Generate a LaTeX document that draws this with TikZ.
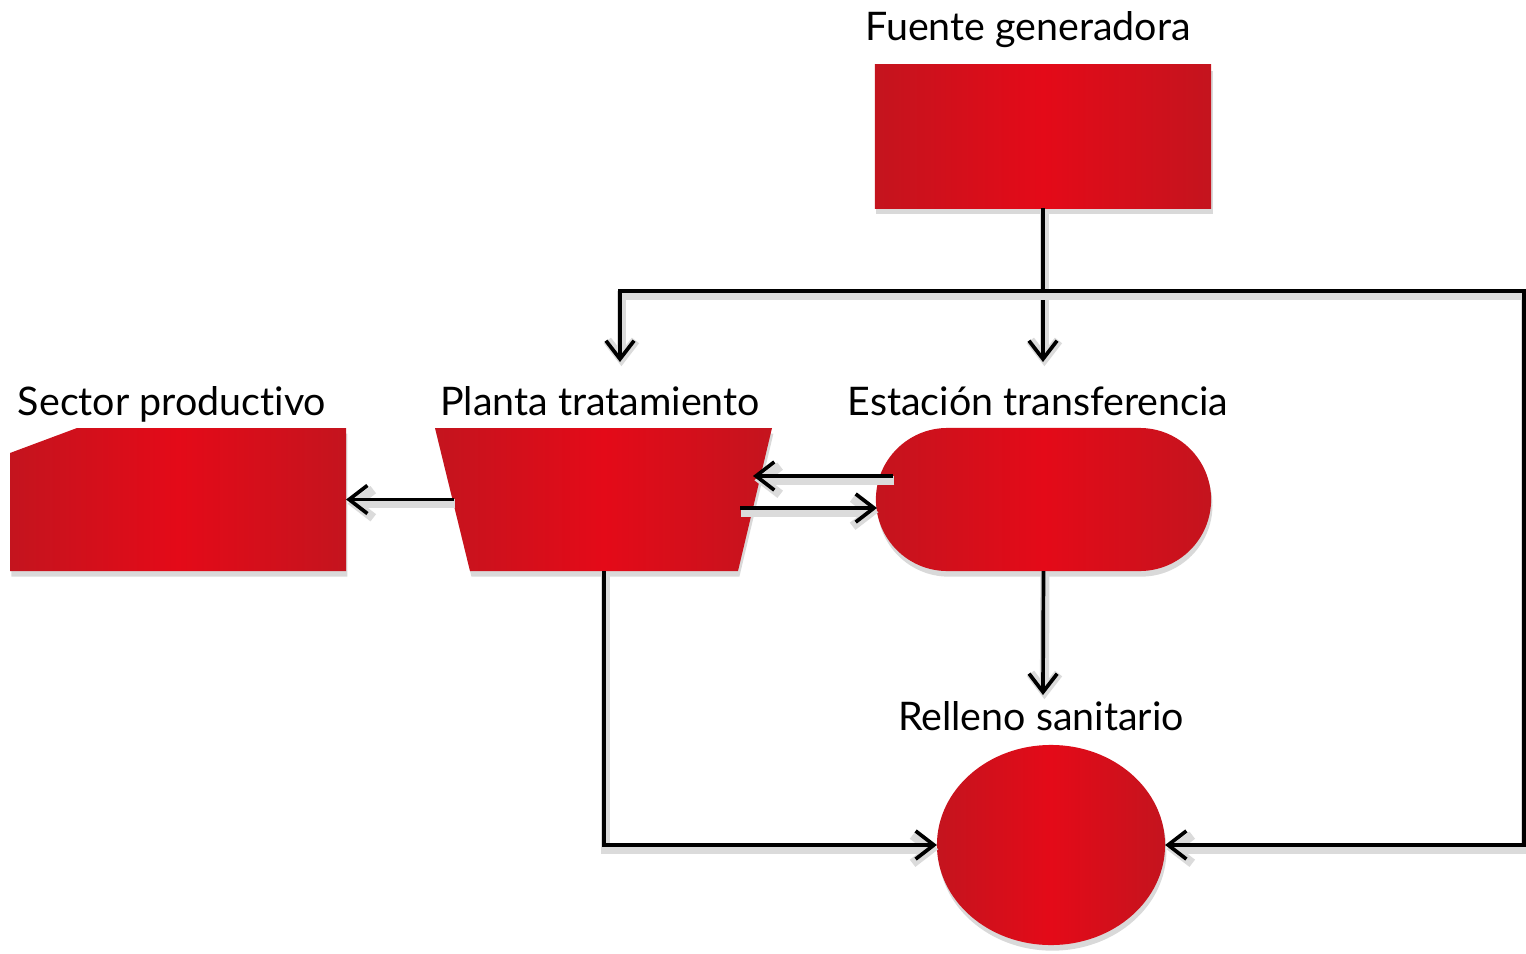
\documentclass[tikz,border=0pt]{standalone}
\usepackage{fontspec}
\setmainfont{Lato}[Ligatures=NoCommon]
\usetikzlibrary{shapes.geometric,shapes.misc,shadows,arrows.meta,calc}
\definecolor{redc}{RGB}{228,10,24}
\definecolor{redd}{RGB}{196,20,30}
\tikzset{
  redshape/.style={draw=none, inner sep=0pt, outer sep=0pt,
    left color=redd, right color=redd, middle color=redc,
    drop shadow={shadow xshift=0.4pt, shadow yshift=-1.6pt, opacity=0.3, fill=black!50}},
  place/.style={inner sep=0pt, outer sep=0pt, minimum width=3.36cm, minimum height=1.43cm},
  lbl/.style={font=\fontsize{11.2}{13}\selectfont, anchor=base, inner sep=0pt},
  conn/.style={line width=1.05pt, black,
    preaction={draw=black!14, line width=2.6pt, transform canvas={shift={(0.4pt,-1.2pt)}}}},
  arr/.style={conn, -{Straight Barb[length=5.2pt,width=8pt]}}
}
\begin{document}
\begin{tikzpicture}[x=0.01cm,y=-0.01cm]
\useasboundingbox (0,0) rectangle (1526,954);
% shapes
\node[redshape, rectangle, minimum width=3.36cm, minimum height=1.43cm] (fuente) at (1043,136.5) {};
\path[redshape] (10,453) -- (77,428) -- (346,428) -- (346,571) -- (10,571) -- cycle;
\node[place] (sector) at (178,499.5) {};
\path[redshape] (435,428) -- (772,428) -- (738,571) -- (470,571) -- cycle;
\node[place, minimum width=3.37cm] (planta) at (603.5,499.5) {};
\node[redshape, rounded rectangle, minimum width=3.35cm, minimum height=1.43cm] (estacion) at (1043.5,499.5) {};
\node[redshape, ellipse, minimum width=2.28cm, minimum height=2.0cm] (relleno) at (1051,845) {};
% labels
\node[lbl] (lfuente) at (1028,40) {Fuente generadora};
\node[lbl] (lsector) at (172,415) {Sector productivo};
\node[lbl] (lplanta) at (600,415) {Planta tratamiento};
\node[lbl] (lestacion) at (1038,415) {Estación transferencia};
\node[lbl] (lrelleno) at (1041,730) {Relleno sanitario};
% coordinates
\coordinate (j) at (1043,291);
\coordinate (jl) at (620,291);
\coordinate (jr) at (1524,291);
\coordinate (estop) at (1043,362);
\coordinate (pltop) at (620,362);
\coordinate (rtop) at (1043,695);
\coordinate (pw) at (454,499.5);
\coordinate (pbot) at (604,845);
\coordinate (e1) at (893,476);
\coordinate (p1) at (753,476);
\coordinate (p2) at (740,508);
\coordinate (e2) at (877,508);
% connectors
\draw[conn] (fuente.south) -- (j);
\draw[arr] (j) -- (estop);
\draw[arr] (j) -- (jl) -- (pltop);
\draw[arr] (j) -- (jr) -- (jr |- relleno.east) -- (relleno.east);
\draw[arr] (pw) -- (sector.east);
\draw[arr] (e1) -- (p1);
\draw[arr] (p2) -- (e2);
\draw[arr] (estacion.south) -- (rtop);
\draw[arr] (planta.south -| pbot) -- (pbot) -- (relleno.west);
\end{tikzpicture}
\end{document}
